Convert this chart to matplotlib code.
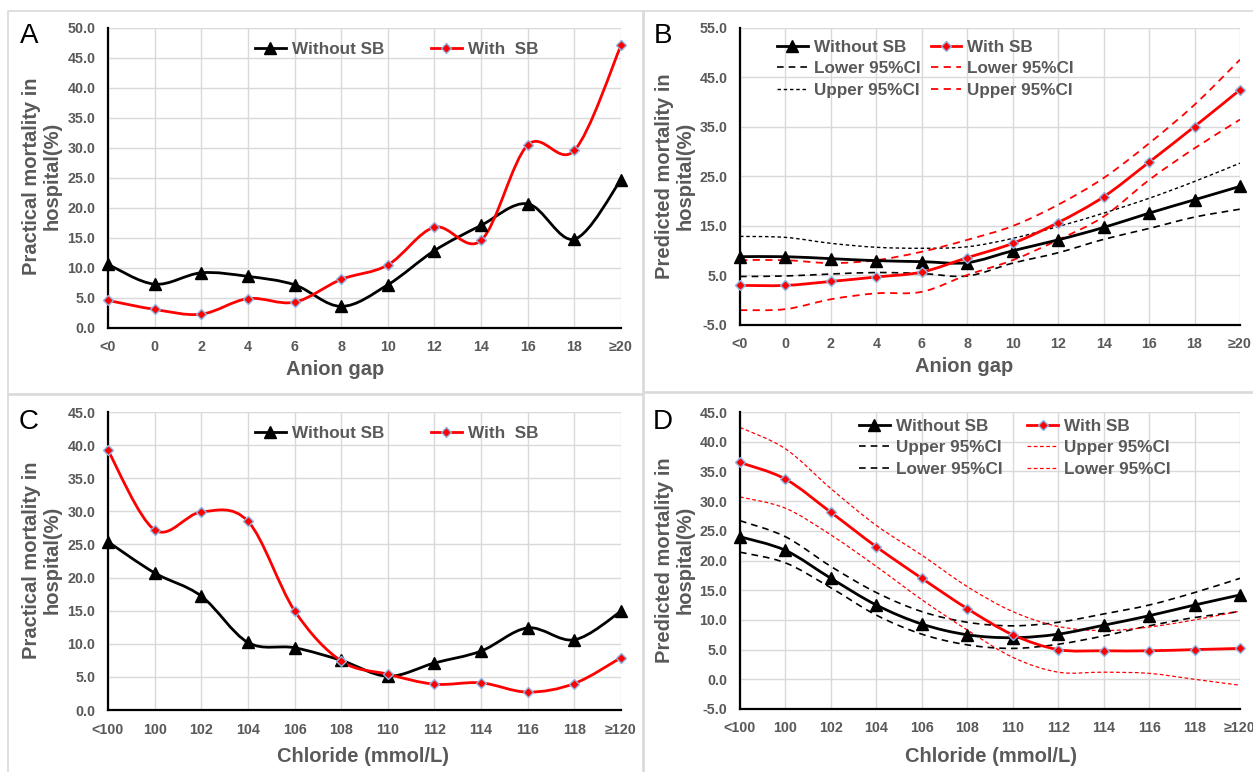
import numpy as np
import matplotlib.pyplot as plt
from matplotlib.path import Path
from matplotlib.patches import PathPatch, Rectangle
from matplotlib.lines import Line2D

plt.rcParams['font.family'] = ['Liberation Sans', 'DejaVu Sans']

GREY = '#595959'
RED = '#ff0000'
EDGE = '#8db4e2'

# ---- data ----
ag_labels = ['<0', '0', '2', '4', '6', '8', '10', '12', '14', '16', '18', '≥20']
cl_labels = ['<100', '100', '102', '104', '106', '108', '110', '112', '114', '116', '118', '≥120']

# A: practical mortality vs anion gap
a_without = [10.6, 7.3, 9.2, 8.6, 7.2, 3.6, 7.2, 12.9, 17.1, 20.7, 14.8, 24.7]
a_with = [4.6, 3.1, 2.3, 4.9, 4.3, 8.1, 10.5, 16.8, 14.6, 30.5, 29.6, 47.1]

# B: predicted mortality vs anion gap
b_without = [8.8, 8.8, 8.4, 8.0, 7.8, 7.6, 10.0, 12.2, 14.7, 17.6, 20.3, 23.0]
b_without_lo = [4.8, 4.9, 5.3, 5.6, 5.4, 4.9, 7.5, 9.6, 12.3, 14.5, 16.8, 18.4]
b_without_hi = [12.9, 12.7, 11.5, 10.7, 10.5, 10.8, 12.5, 14.9, 17.6, 20.6, 24.0, 27.7]
b_with = [3.0, 3.0, 3.8, 4.7, 5.7, 8.6, 11.5, 15.7, 20.9, 27.9, 35.1, 42.5]
b_with_lo = [-2.0, -1.8, 0.2, 1.4, 1.7, 5.1, 8.1, 12.2, 16.9, 24.3, 30.7, 36.5]
b_with_hi = [8.1, 8.1, 7.5, 8.1, 9.8, 12.2, 15.0, 19.3, 24.7, 31.7, 39.5, 48.6]

# C: practical mortality vs chloride
c_without = [25.4, 20.7, 17.2, 10.2, 9.4, 7.5, 5.1, 7.1, 8.9, 12.4, 10.6, 14.9]
c_with = [39.2, 27.2, 29.9, 28.5, 15.0, 7.4, 5.4, 3.9, 4.1, 2.7, 4.0, 7.9]

# D: predicted mortality vs chloride
d_without = [24.0, 21.7, 17.0, 12.5, 9.3, 7.5, 7.0, 7.6, 9.1, 10.7, 12.5, 14.2]
d_without_hi = [26.7, 24.0, 19.0, 14.6, 11.4, 9.6, 9.0, 9.6, 11.0, 12.5, 14.6, 17.0]
d_without_lo = [21.4, 19.6, 15.4, 10.8, 7.6, 5.8, 5.2, 5.9, 7.3, 9.0, 10.4, 11.4]
d_with = [36.5, 33.7, 28.1, 22.3, 17.0, 11.9, 7.5, 5.0, 4.8, 4.8, 5.0, 5.2]
d_with_hi = [42.4, 38.8, 32.1, 25.9, 20.9, 15.6, 11.4, 8.9, 8.2, 8.8, 10.0, 11.5]
d_with_lo = [30.7, 28.8, 24.3, 19.0, 13.4, 8.3, 3.7, 1.2, 1.2, 1.0, 0.0, -1.0]


def smooth(ax, y, color, lw, ls='-'):
    # Excel-style smoothed line: cubic Bezier segments through the points
    x = np.arange(len(y), dtype=float)
    y = np.asarray(y, dtype=float)
    n = len(y)
    verts = [(x[0], y[0])]
    codes = [Path.MOVETO]
    for i in range(n - 1):
        i0 = max(i - 1, 0)
        i3 = min(i + 2, n - 1)
        c1 = (x[i] + (x[i + 1] - x[i0]) / 6, y[i] + (y[i + 1] - y[i0]) / 6)
        c2 = (x[i + 1] - (x[i3] - x[i]) / 6, y[i + 1] - (y[i3] - y[i]) / 6)
        verts += [c1, c2, (x[i + 1], y[i + 1])]
        codes += [Path.CURVE4] * 3
    ax.add_patch(PathPatch(Path(verts, codes), fill=False, edgecolor=color,
                           lw=lw, linestyle=ls, capstyle='butt', zorder=3))


def markers(ax, y, kind):
    x = np.arange(len(y))
    if kind == 'tri':
        ax.plot(x, y, ls='none', marker='^', ms=8, color='black', clip_on=False, zorder=5)
    else:
        ax.plot(x, y, ls='none', marker='D', ms=5.5, mfc=RED, mec=EDGE, mew=1.0,
                clip_on=False, zorder=5)


def setup(ax, labels, ylim, yticks):
    ax.set_xlim(0, len(labels) - 1)
    ax.set_ylim(*ylim)
    ax.set_xticks(range(len(labels)))
    ax.set_xticklabels(labels)
    ax.set_yticks(yticks)
    ax.set_yticklabels(['%.1f' % v for v in yticks])
    ax.grid(True, color='#d9d9d9', lw=1.0)
    ax.set_axisbelow(True)
    for s in ['top', 'right']:
        ax.spines[s].set_visible(False)
    for s in ['left', 'bottom']:
        ax.spines[s].set_linewidth(1.6)
        ax.spines[s].set_color('black')
        ax.spines[s].set_zorder(4)
    ax.tick_params(length=0, labelsize=10.3, labelcolor=GREY, pad=9)
    for t in ax.get_xticklabels() + ax.get_yticklabels():
        t.set_fontweight('bold')


W, H = 1253, 772
fig = plt.figure(figsize=(W / 100, H / 100), dpi=100)


def axes_px(l, t, r, b):
    return fig.add_axes([l / W, 1 - b / H, (r - l) / W, (b - t) / H])


def lbl(x, y, s, **kw):
    fig.text(x / W, 1 - y / H, s, **kw)


# panel borders
for (l, t, r, b) in [(8, 11, 643, 394), (644, 11, 1260, 392), (8, 395, 643, 780), (644, 393, 1260, 780)]:
    fig.add_artist(Rectangle((l / W, 1 - b / H), (r - l) / W, (b - t) / H, fill=False,
                             edgecolor='#d9d9d9', lw=1.2, transform=fig.transFigure))

main_kw = dict(fontsize=14.5, fontweight='bold', color=GREY)

# ---- A ----
axA = axes_px(108, 28, 621, 328)
setup(axA, ag_labels, (0, 50), np.arange(0, 50.1, 5))
smooth(axA, a_without, 'black', 2.0)
smooth(axA, a_with, RED, 2.0)
markers(axA, a_without, 'tri')
markers(axA, a_with, 'dia')

# ---- B ----
axB = axes_px(740, 28, 1240, 325)
setup(axB, ag_labels, (-5, 55), np.arange(-5, 55.1, 10))
smooth(axB, b_without_lo, 'black', 1.2, (0, (4, 3)))
smooth(axB, b_without_hi, 'black', 1.0, (0, (2.5, 2)))
smooth(axB, b_with_lo, RED, 1.3, (0, (4, 3)))
smooth(axB, b_with_hi, RED, 1.3, (0, (4, 3)))
smooth(axB, b_without, 'black', 2.0)
smooth(axB, b_with, RED, 2.0)
markers(axB, b_without, 'tri')
markers(axB, b_with, 'dia')

# ---- C ----
axC = axes_px(108, 412, 621, 710)
setup(axC, cl_labels, (0, 45), np.arange(0, 45.1, 5))
smooth(axC, c_without, 'black', 2.0)
smooth(axC, c_with, RED, 2.0)
markers(axC, c_without, 'tri')
markers(axC, c_with, 'dia')

# ---- D ----
axD = axes_px(740, 412, 1240, 709)
setup(axD, cl_labels, (-5, 45), np.arange(-5, 45.1, 5))
smooth(axD, d_without_hi, 'black', 1.2, (0, (4, 3)))
smooth(axD, d_without_lo, 'black', 1.2, (0, (4, 3)))
smooth(axD, d_with_hi, RED, 0.9, (0, (3, 2)))
smooth(axD, d_with_lo, RED, 0.9, (0, (3, 2)))
smooth(axD, d_without, 'black', 2.0)
smooth(axD, d_with, RED, 2.0)
markers(axD, d_without, 'tri')
markers(axD, d_with, 'dia')

# ---- legends ----
h_without = Line2D([], [], color='black', lw=2.0, marker='^', ms=8)
h_with = Line2D([], [], color=RED, lw=2.0, marker='D', ms=5.5, mfc=RED, mec=EDGE)
leg_kw = dict(frameon=False, loc='upper left', borderpad=0, borderaxespad=0,
              handlelength=1.8, handletextpad=0.35, prop={'weight': 'bold', 'size': 12.3},
              labelcolor=GREY, bbox_transform=fig.transFigure)


def legend(ax, handles, labels, x, y, ncol, colsp, lsp=0.37):
    ax.legend(handles, labels, ncol=ncol, columnspacing=colsp, labelspacing=lsp,
              bbox_to_anchor=(x / W, 1 - y / H), **leg_kw)


legend(axA, [h_without, h_with], ['Without SB', 'With  SB'], 255, 42, 2, 2.75)
legend(axC, [h_without, h_with], ['Without SB', 'With  SB'], 255, 426, 2, 2.75)

bl = Line2D([], [], color='black', lw=1.2, ls=(0, (4, 3)))
bu = Line2D([], [], color='black', lw=1.0, ls=(0, (2.5, 2)))
rl = Line2D([], [], color=RED, lw=1.3, ls=(0, (4, 3)))
legend(axB, [h_without, bl, bu, h_with, rl, rl], ['Without SB', 'Lower 95%CI', 'Upper 95%CI',
       'With SB', 'Lower 95%CI', 'Upper 95%CI'], 777, 40, 2, 0.6)

dl = Line2D([], [], color='black', lw=1.2, ls=(0, (4, 3)))
dr = Line2D([], [], color=RED, lw=0.9, ls=(0, (3, 2)))
legend(axD, [h_without, dl, dl, h_with, dr, dr], ['Without SB', 'Upper 95%CI', 'Lower 95%CI',
       'With SB', 'Upper 95%CI', 'Lower 95%CI'], 859, 419, 2, 1.45)

# ---- axis titles and panel letters ----
for x, y, s in [(335, 370, 'Anion gap'), (964, 367, 'Anion gap'),
                (363, 757, 'Chloride (mmol/L)'), (991, 757, 'Chloride (mmol/L)')]:
    lbl(x, y, s, ha='center', va='center', **main_kw)

for x, y, s in [(41.5, 176, 'Practical mortality in\nhospital(%)'),
                (675, 176, 'Predicted mortality in\nhospital(%)'),
                (41.5, 560, 'Practical mortality in\nhospital(%)'),
                (675, 560, 'Predicted mortality in\nhospital(%)')]:
    lbl(x, y, s, ha='center', va='center', rotation=90, multialignment='center',
        linespacing=1.12, **main_kw)

for x, y, s in [(29, 36, 'A'), (663, 36, 'B'), (29, 422, 'C'), (663, 422, 'D')]:
    lbl(x, y, s, ha='center', va='center', fontsize=20, color='black')

fig.savefig('out.png', dpi=100)
